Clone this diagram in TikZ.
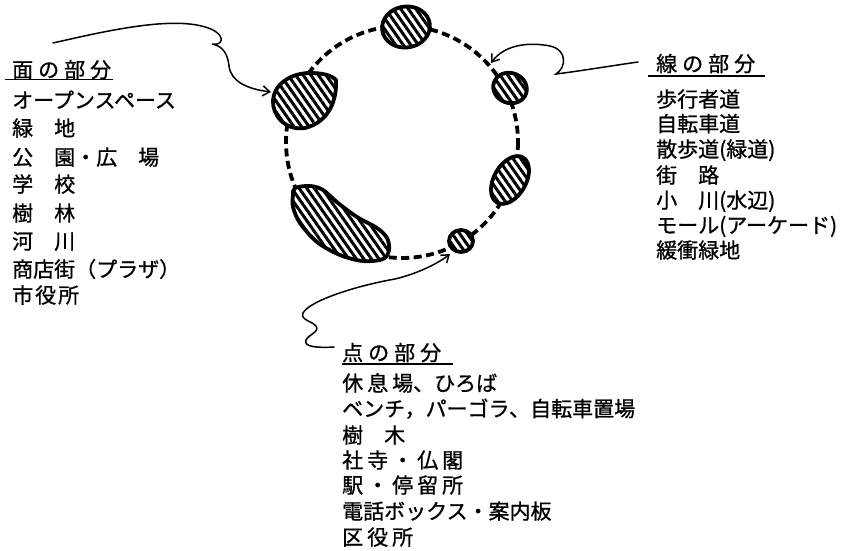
\documentclass[tikz,border=0pt]{standalone}
\usepackage{fontspec}
\setmainfont[FakeBold=0.9]{Noto Sans CJK JP}
\usetikzlibrary{arrows.meta,patterns.meta}
\newcommand\hgap{\kern5pt}
\newcommand\sgap{\kern4pt}
\newcommand\tgap{\kern2pt}
\tikzset{
  hatchblob/.style={line width=3.8pt, line join=round, preaction={fill=white},
    pattern={Lines[angle=-55,distance=6.2pt,line width=3pt]}},
  ring/.style={line width=3.8pt, dash pattern=on 8pt off 4.5pt},
  pointer/.style={line width=1.5pt, line cap=round,
    -{Straight Barb[length=7pt,width=10pt,line width=1.5pt]}},
  item/.style={anchor=base west, inner sep=0pt, font=\fontsize{21pt}{21pt}\selectfont},
  heading/.style={item},
  uline/.style={line width=1.6pt},
}
\begin{document}
\begin{tikzpicture}[x=1pt,y=-1pt]
\useasboundingbox (0,0) rectangle (846,550);

% ring
\draw[ring] (402,142) circle[radius=116];

% blobs
\draw[hatchblob] (406,27) ellipse[x radius=24, y radius=20.5, rotate=8];
\draw[hatchblob] (336,80) .. controls (337,100) and (329,122) .. (305,128)
   .. controls (285,131) and (272,115) .. (273,100)
   .. controls (274,85) and (290,73) .. (310,73)
   .. controls (322,73) and (331,75) .. (336,80) -- cycle;
\draw[hatchblob] (510,88) ellipse[x radius=17, y radius=15, rotate=-20];
\draw[hatchblob] (510,180) ellipse[x radius=16, y radius=26, rotate=-30];
\draw[hatchblob] (461,241) ellipse[x radius=12, y radius=11];
\draw[hatchblob] plot[smooth cycle, tension=0.55] coordinates {(295,188) (310,186) (323,190) (338,203) (357,217) (377,228) (387,238) (389,250) (383,259) (363,261) (340,255) (317,242) (300,223) (293,207) (293,195)};

% arrows
\coordinate (lstart) at (53,43);
\coordinate (lend) at (271,92);
\draw[pointer] (lstart) .. controls (110,30) and (180,14) .. (213,30)
   .. controls (226,37) and (222,46) .. (212,44)
   .. controls (224,46) and (228,56) .. (229,66)
   .. controls (231,82) and (248,89) .. (lend);

\coordinate (rstart) at (638,62);
\coordinate (rend) at (491,63);
\draw[pointer] (rstart) .. controls (610,66) and (580,71) .. (556,74)
   .. controls (566,68) and (568,50) .. (550,46)
   .. controls (530,42) and (505,44) .. (rend);

\coordinate (bstart) at (334,347);
\coordinate (bend) at (450,254);
\draw[pointer] (bstart) .. controls (318,348) and (303,347) .. (306,340)
   .. controls (309,334) and (320,332) .. (316,326)
   .. controls (312,321) and (300,320) .. (303,313)
   .. controls (310,300) and (360,285) .. (395,279)
   .. controls (420,273) and (440,262) .. (bend);

% left list
\node[heading] (hmen) at (12,77.5) {面\hgap の\hgap 部\hgap 分};
\draw[uline] (5,79.5) -- (113,79.5);
\node[item] (m1) at (12,108) {オープンスペース};
\node[item] (m2) at (12,136) {緑　地};
\node[item] (m3) at (12,165) {公　園・広　場};
\node[item] (m4) at (12,192) {学　校};
\node[item] (m5) at (12,221) {樹　林};
\node[item] (m6) at (12,249) {河　川};
\node[item] (m7) at (12,277) {商店街（プラザ）};
\node[item] (m8) at (12,303) {市\tgap 役\tgap 所};

% right list
\node[heading] (hsen) at (656,71.5) {線\hgap の\hgap 部\hgap 分};
\draw[uline] (648,76) -- (765,76);
\node[item] (s1) at (656,107) {歩行者道};
\node[item] (s2) at (656,131.5) {自転車道};
\node[item] (s3) at (656,157) {散歩道(緑道)};
\node[item] (s4) at (656,183) {街　路};
\node[item] (s5) at (656,208) {小　川(水辺)};
\node[item] (s6) at (656,233) {モール(アーケード)};
\node[item] (s7) at (656,258) {緩衝緑地};

% bottom list
\node[heading] (hten) at (342,360.5) {点\hgap の\hgap 部\hgap 分};
\draw[uline] (342,364) -- (453,364);
\node[item] (t1) at (342,391) {休\sgap 息\sgap 場、ひろば};
\node[item] (t2) at (342,416.5) {ベンチ，パーゴラ、自転車置場};
\node[item] (t3) at (342,443) {樹　木};
\node[item] (t4) at (342,468) {社\sgap 寺\sgap ・\sgap 仏\sgap 閣};
\node[item] (t5) at (342,493) {駅\sgap ・\sgap 停\sgap 留\sgap 所};
\node[item] (t6) at (342,519) {電話ボックス・案内板};
\node[item] (t7) at (342,545) {区\sgap 役\sgap 所};
\end{tikzpicture}
\end{document}
